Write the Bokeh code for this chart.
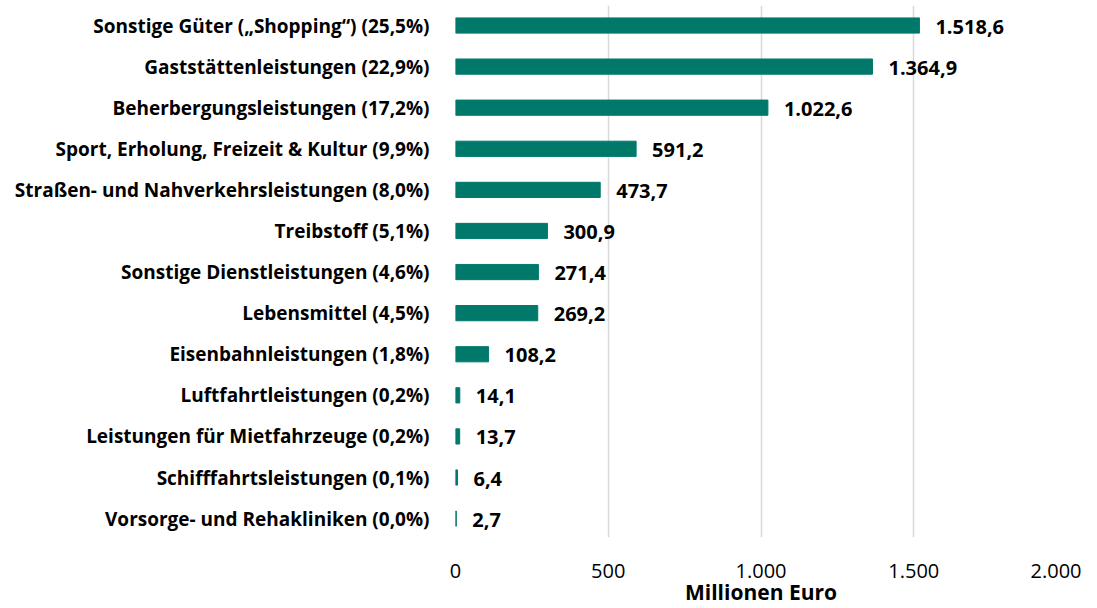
from bokeh.plotting import figure
from bokeh.models import ColumnDataSource, Range1d, FixedTicker, CustomJSTickFormatter
from bokeh.core.properties import value
from bokeh.embed import file_html
from bokeh.resources import INLINE

categories = [
    "Sonstige Güter („Shopping“) (25,5%)",
    "Gaststättenleistungen (22,9%)",
    "Beherbergungsleistungen (17,2%)",
    "Sport, Erholung, Freizeit & Kultur (9,9%)",
    "Straßen- und Nahverkehrsleistungen (8,0%)",
    "Treibstoff (5,1%)",
    "Sonstige Dienstleistungen (4,6%)",
    "Lebensmittel (4,5%)",
    "Eisenbahnleistungen (1,8%)",
    "Luftfahrtleistungen (0,2%)",
    "Leistungen für Mietfahrzeuge (0,2%)",
    "Schifffahrtsleistungen (0,1%)",
    "Vorsorge- und Rehakliniken (0,0%)",
]
values = [1518.6, 1364.9, 1022.6, 591.2, 473.7, 300.9, 271.4, 269.2, 108.2, 14.1, 13.7, 6.4, 2.7]
x_ticks = [0, 500, 1000, 1500, 2000]

FONT = "Open Sans"
BAR = "#00796B"

def de_fmt(v):
    s = f"{v:,.1f}"
    return s.replace(",", "X").replace(".", ",").replace("X", ".")

n = len(categories)
ypos = [n - 1 - i for i in range(n)]
labels = [de_fmt(v) for v in values]

src = ColumnDataSource(dict(y=ypos, v=values, lab=labels))

p = figure(width=1081, height=608, output_backend="svg", toolbar_location=None,
           x_range=Range1d(0, 2000), y_range=Range1d(-0.46, n - 1 + 0.487),
           min_border_left=455, min_border_right=15, min_border_top=5, min_border_bottom=0)

p.hbar(y="y", right="v", left=0, height=0.37, source=src, color=BAR, line_color=BAR)
p.text(x="v", y="y", text="lab", source=src, x_offset=16, y_offset=1,
       text_font=value(FONT), text_font_style="bold", text_font_size="20px",
       text_baseline="middle", text_align="left", text_color="#000000")

p.outline_line_color = None
p.background_fill_color = "white"
p.border_fill_color = "white"

p.xgrid.ticker = FixedTicker(ticks=x_ticks)
p.xgrid.grid_line_color = "#d9d9d9"
p.xgrid.grid_line_width = 1.5
p.ygrid.grid_line_color = None

xa = p.xaxis[0]
xa.ticker = FixedTicker(ticks=x_ticks)
xa.formatter = CustomJSTickFormatter(code="return tick.toFixed(0).replace(/\\B(?=(\\d{3})+(?!\\d))/g, '.');")
xa.axis_line_color = None
xa.major_tick_line_color = None
xa.minor_tick_line_color = None
xa.major_label_text_font = FONT
xa.major_label_text_font_size = "20px"
xa.major_label_text_color = "#000000"
xa.major_label_standoff = 20
xa.axis_label = "Millionen Euro"
xa.axis_label_text_font = FONT
xa.axis_label_text_font_style = "bold"
xa.axis_label_text_font_size = "21px"
xa.axis_label_text_color = "#000000"
xa.axis_label_standoff = -3

ya = p.yaxis[0]
ya.ticker = FixedTicker(ticks=ypos)
ya.major_label_overrides = {yy: c for yy, c in zip(ypos, categories)}
ya.axis_line_color = None
ya.major_tick_line_color = None
ya.minor_tick_line_color = None
ya.major_label_text_font = FONT
ya.major_label_text_font_style = "bold"
ya.major_label_text_font_size = "19px"
ya.major_label_text_color = "#000000"
ya.major_label_standoff = 20

open("out.html", "w").write(file_html(p, INLINE))
